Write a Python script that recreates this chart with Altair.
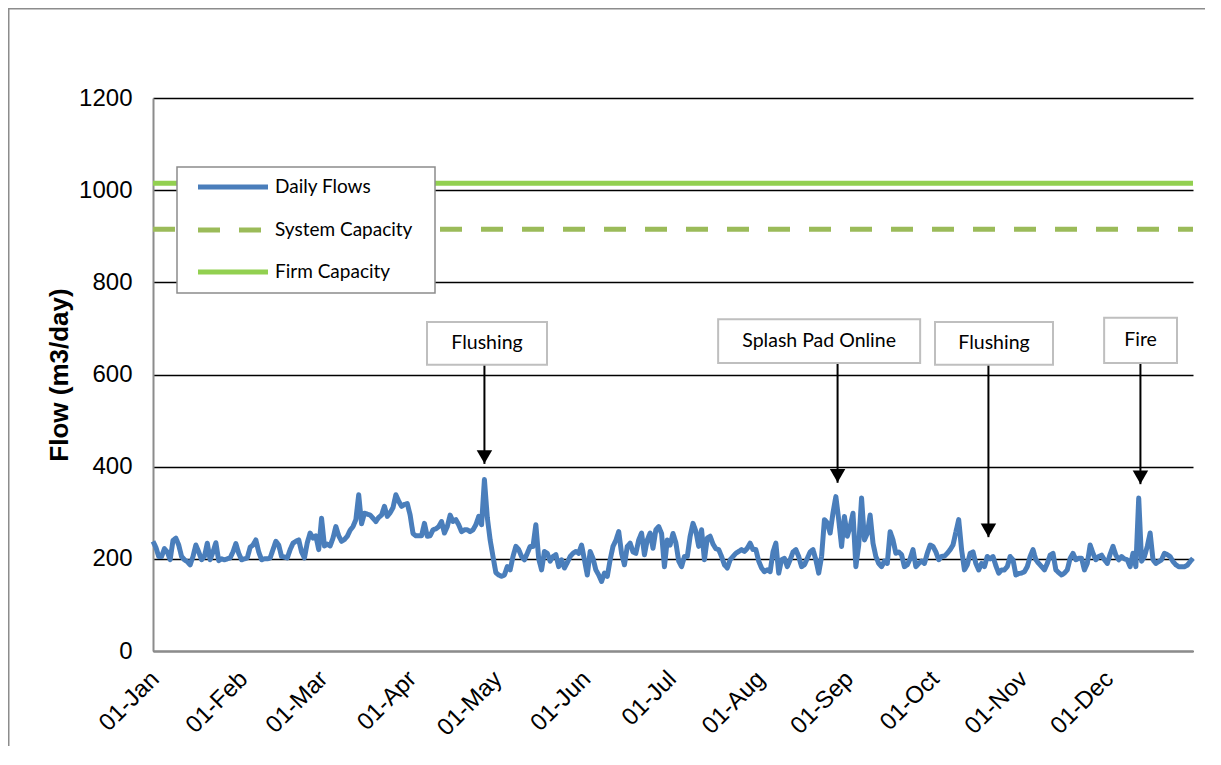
import altair as alt
import pandas as pd

# ---- data ----
month_labels = ["01-Jan", "01-Feb", "01-Mar", "01-Apr", "01-May", "01-Jun",
                "01-Jul", "01-Aug", "01-Sep", "01-Oct", "01-Nov", "01-Dec"]
month_start_day = [0, 31, 59, 90, 120, 151, 181, 212, 243, 273, 304, 334]

jan = [238, 225, 205, 205, 222, 215, 198, 240, 245, 230, 205, 198, 194, 187, 205, 230,
       215, 198, 205, 234, 198, 215, 235, 196, 200, 198, 200, 202, 215, 233, 212]
feb = [198, 200, 202, 225, 230, 241, 215, 198, 200, 200, 202, 220, 238, 230, 205, 204,
       202, 220, 234, 238, 241, 215, 202, 235, 256, 245, 250, 220]
mar = [288, 228, 232, 228, 245, 270, 250, 238, 242, 249, 262, 270, 285, 339, 276, 299,
       297, 295, 288, 281, 290, 295, 314, 292, 300, 311, 339, 325, 314, 318, 320]
apr = [295, 255, 250, 250, 250, 277, 249, 250, 263, 265, 270, 281, 256, 270, 295, 281,
       285, 274, 259, 263, 263, 259, 263, 274, 292, 274, 372, 290, 241, 205]
may = [170, 165, 162, 165, 183, 176, 205, 227, 220, 205, 198, 212, 227, 227, 274, 200,
       176, 216, 212, 195, 205, 209, 183, 198, 180, 192, 205, 212, 216, 212, 230]
jun = [198, 165, 216, 201, 176, 165, 151, 169, 162, 198, 227, 240, 259, 212, 187, 227,
       234, 215, 212, 241, 256, 209, 241, 256, 223, 263, 270, 255, 183, 241]
jul = [230, 255, 235, 195, 183, 205, 205, 249, 277, 260, 227, 263, 198, 245, 249, 232,
       222, 220, 205, 187, 180, 198, 205, 212, 216, 220, 216, 223, 234, 220, 220]
aug = [195, 180, 172, 176, 172, 215, 234, 169, 198, 201, 183, 198, 215, 220, 205, 183,
       187, 201, 215, 220, 198, 169, 205, 285, 278, 256, 300, 335, 285, 227, 292]
sep = [249, 270, 299, 183, 230, 332, 241, 255, 295, 234, 205, 190, 183, 195, 190, 259,
       241, 212, 215, 209, 183, 187, 200, 220, 183, 190, 195, 190, 212, 230]
oct_ = [227, 215, 198, 205, 206, 212, 220, 230, 258, 285, 220, 176, 187, 212, 215, 190,
        176, 190, 183, 205, 200, 205, 185, 169, 176, 176, 183, 205, 198, 165, 168]
nov = [169, 172, 183, 205, 220, 198, 190, 183, 176, 190, 208, 212, 176, 170, 165, 169,
       176, 201, 212, 198, 201, 201, 176, 190, 230, 212, 198, 205, 208, 198]
dec = [190, 210, 227, 208, 198, 205, 200, 198, 183, 212, 183, 332, 195, 205, 227, 256,
       198, 190, 194, 198, 212, 209, 205, 194, 187, 183, 183, 183, 186, 194, 201]

series_names = ["Daily Flows", "System Capacity", "Firm Capacity"]
series_colors = ["#4a7ebb", "#9bbb59", "#92d050"]
series_dash = [[1, 0], [22, 19], [1, 0]]
system_capacity = 915
firm_capacity = 1015

# annotations: label, arrow day, box extent (days), box top/bottom and arrow tip (m3/day)
ann_label = ["Flushing", "Splash Pad Online", "Flushing", "Fire"]
ann_day = [116.0, 239.6, 292.4, 345.6]
ann_x1 = [95.9, 197.8, 273.7, 332.9]
ann_x2 = [137.9, 268.5, 315.0, 358.4]
ann_top = [714, 720, 714, 723]
ann_bottom = [621, 625, 621, 625]
ann_tip = [406, 365, 247, 362]

# ---- tables ----
flows = jan + feb + mar + apr + may + jun + jul + aug + sep + oct_ + nov + dec
last_day = len(flows) - 1
df = pd.concat([
    pd.DataFrame({"day": list(range(len(flows))), "flow": flows, "series": series_names[0]}),
    pd.DataFrame({"day": [0, last_day], "flow": [system_capacity] * 2, "series": series_names[1]}),
    pd.DataFrame({"day": [0, last_day], "flow": [firm_capacity] * 2, "series": series_names[2]}),
], ignore_index=True)

ann = pd.DataFrame({"label": ann_label, "day": ann_day, "x1": ann_x1, "x2": ann_x2,
                    "top": ann_top, "bottom": ann_bottom, "tip": ann_tip})
ann["xm"] = (ann["x1"] + ann["x2"]) / 2
ann["ym"] = (ann["top"] + ann["bottom"]) / 2

W, H = 1040, 553
xscale = alt.Scale(domain=[0, last_day], nice=False, zero=False)
yscale = alt.Scale(domain=[0, 1200], nice=False)
color_scale = alt.Scale(domain=series_names, range=series_colors)
dash_scale = alt.Scale(domain=series_names, range=series_dash)

label_expr = "{}[indexof({}, datum.value)]".format(
    "[" + ",".join("'%s'" % m for m in month_labels) + "]",
    "[" + ",".join(str(d) for d in month_start_day) + "]")

lines = alt.Chart(df).mark_line(strokeWidth=5, strokeJoin="round").encode(
    x=alt.X("day:Q", scale=xscale,
            axis=alt.Axis(values=month_start_day, labelExpr=label_expr, title=None,
                          grid=False, ticks=False, labelAngle=-45, labelAlign="right",
                          labelBaseline="middle", labelPadding=24, labelOffset=2,
                          labelFont="Liberation Sans", labelFontSize=24,
                          labelColor="black", domainColor="#8c8c8c", domainWidth=2,
                          labelOverlap=False, labelBound=False, labelFlush=False)),
    y=alt.Y("flow:Q", scale=yscale,
            axis=alt.Axis(values=list(range(0, 1201, 200)), format="d",
                          title="Flow (m3/day)",
                          grid=True, gridColor="black", gridWidth=1.5, ticks=False,
                          labelPadding=21, labelFont="Liberation Sans", labelFontSize=24,
                          labelColor="black", domainColor="#8c8c8c", domainWidth=2,
                          titleFont="Liberation Sans", titleFontSize=26,
                          titleFontWeight="bold", titleColor="black", titleAngle=-90,
                          titleX=-94, titleY=H / 2, titleAlign="center",
                          titleBaseline="middle", labelOverlap=False)),
    color=alt.Color("series:N", scale=color_scale, legend=None),
    strokeDash=alt.StrokeDash("series:N", scale=dash_scale, legend=None),
    detail="series:N",
)

boxes = alt.Chart(ann).mark_rect(fill="white", stroke="#bfbfbf", strokeWidth=2).encode(
    x=alt.X("x1:Q", scale=xscale), x2="x2:Q",
    y=alt.Y("top:Q", scale=yscale), y2="bottom:Q")

texts = alt.Chart(ann).mark_text(font="Lato", fontSize=19.5, color="black",
                                 baseline="middle", align="center").encode(
    x=alt.X("xm:Q", scale=xscale),
    y=alt.Y("ym:Q", scale=yscale), text="label:N")

arrows = alt.Chart(ann).mark_rule(color="black", strokeWidth=2).encode(
    x=alt.X("day:Q", scale=xscale),
    y=alt.Y("bottom:Q", scale=yscale), y2="tip:Q")

heads = alt.Chart(ann).mark_point(shape="triangle-down", filled=True, size=240,
                                  color="black", opacity=1, yOffset=-7).encode(
    x=alt.X("day:Q", scale=xscale),
    y=alt.Y("tip:Q", scale=yscale))

# ---- legend box (drawn in pixels inside the plot area) ----
one = pd.DataFrame({"k": [0]})
leg_x0, leg_x1, leg_y0, leg_y1 = 24, 282, 69, 195
leg_sym0, leg_sym1, leg_text_x = 45, 115, 122
leg_rows = [89, 132, 174]

legend_layers = [
    alt.Chart(one).mark_rect(fill="white", stroke="#8c8c8c", strokeWidth=1.5).encode(
        x=alt.value(leg_x0), x2=alt.value(leg_x1), y=alt.value(leg_y0), y2=alt.value(leg_y1))
]
for name, ry in zip(series_names, leg_rows):
    row = pd.DataFrame({"series": [name]})
    legend_layers.append(
        alt.Chart(row).mark_rule(strokeWidth=5).encode(
            x=alt.value(leg_sym0), x2=alt.value(leg_sym1), y=alt.value(ry),
            color=alt.Color("series:N", scale=color_scale, legend=None),
            strokeDash=alt.StrokeDash("series:N", scale=dash_scale, legend=None)))
    legend_layers.append(
        alt.Chart(row).mark_text(font="Lato", fontSize=19, color="black",
                                 align="left", baseline="middle").encode(
            x=alt.value(leg_text_x), y=alt.value(ry), text="series:N"))

frame_left = alt.Chart(one).mark_rule(color="#8c8c8c", strokeWidth=2).encode(
    x=alt.value(-144.5), y=alt.value(-90), y2=alt.value(H + 95))
frame_top = alt.Chart(one).mark_rule(color="#8c8c8c", strokeWidth=2).encode(
    x=alt.value(-145), x2=alt.value(W + 12), y=alt.value(-89.5))

chart = alt.layer(lines, arrows, heads, boxes, texts, *legend_layers,
                  frame_left, frame_top).properties(
    width=W, height=H,
    padding={"left": 145, "top": 90, "right": 12, "bottom": 95},
    autosize=alt.AutoSizeParams(type="none"),
).configure(background="white").configure_view(stroke=None)

chart.save("out.html", embed_options={"renderer": "svg", "actions": False})
